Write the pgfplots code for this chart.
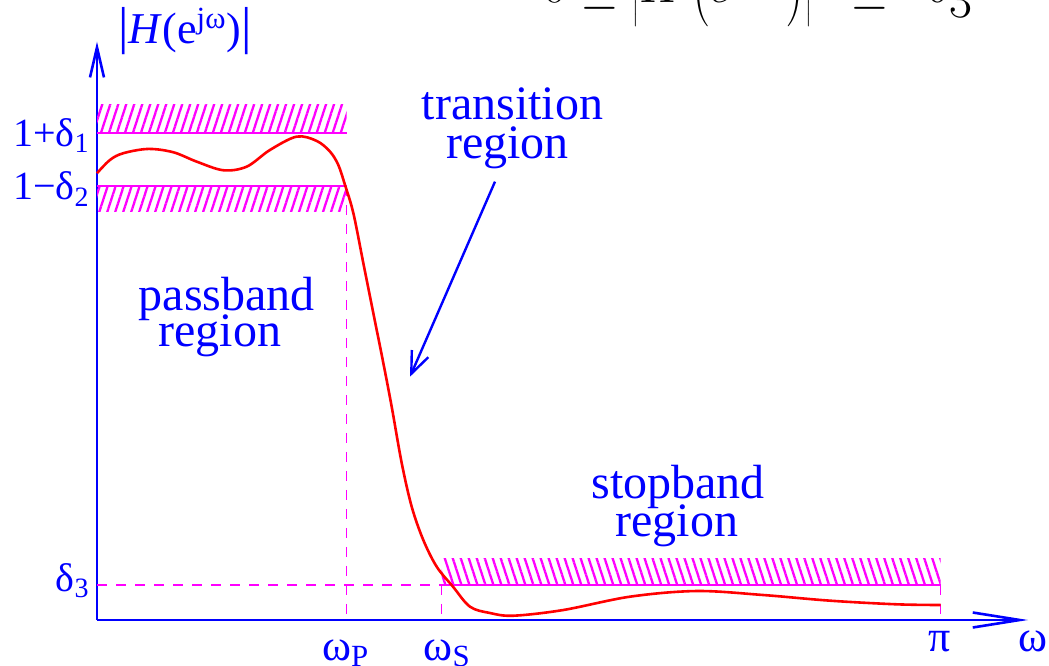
\documentclass[border=0pt]{standalone}
\usepackage{pgfplots}
\pgfplotsset{compat=1.18}
\usepackage{fontspec}
\setmainfont{Liberation Serif}
\usetikzlibrary{patterns.meta,arrows.meta}
\definecolor{myblue}{RGB}{0,0,255}
\definecolor{myred}{RGB}{255,0,0}
\definecolor{mymag}{RGB}{255,0,255}
\begin{document}
\begin{tikzpicture}
\useasboundingbox (0,0) rectangle (524.5pt,332.5pt);
\begin{axis}[
  at={(48.5pt,22.5pt)}, anchor=south west,
  scale only axis, width=465.5pt, height=289.15pt,
  xmin=0, xmax=3.4667, ymin=0, ymax=1.257,
  axis lines=left, xtick=\empty, ytick=\empty,
  clip=false,
  x axis line style={myblue, line width=1.3pt, -{Straight Barb[length=23.5pt,width=7.5pt]}},
  y axis line style={myblue, line width=1.3pt, -{Straight Barb[length=15pt,width=7pt]}},
]
% hatched tolerance bands
\addplot[draw=none, pattern={Lines[angle=72,distance=3.8pt,line width=1.15pt]}, pattern color=mymag]
  coordinates {(0,1.058) (0.9298,1.058) (0.9298,1.1196) (0,1.1196)} -- cycle;
\addplot[draw=none, pattern={Lines[angle=72,distance=3.8pt,line width=1.15pt]}, pattern color=mymag]
  coordinates {(0,0.8877) (0.9298,0.8877) (0.9298,0.9435) (0,0.9435)} -- cycle;
\addplot[draw=none, pattern={Lines[angle=108,distance=3.8pt,line width=1.15pt]}, pattern color=mymag]
  coordinates {(1.2835,0.0761) (3.1416,0.0761) (3.1416,0.1326) (1.2835,0.1326)} -- cycle;
\addplot[mymag, line width=1.2pt] coordinates {(0,1.058) (0.9298,1.058)};
\addplot[mymag, line width=1.2pt] coordinates {(0,0.9435) (0.9298,0.9435)};
\addplot[mymag, line width=1.2pt] coordinates {(1.2835,0.0761) (3.1416,0.0761)};
% dashed guides
\addplot[mymag, line width=0.65pt, dash pattern=on 5pt off 4.5pt] coordinates {(0.9298,0.9435) (0.9298,0)};
\addplot[mymag, line width=0.65pt, dash pattern=on 5pt off 4.5pt] coordinates {(0,0.0761) (1.2835,0.0761)};
\addplot[mymag, line width=0.65pt, dash pattern=on 5pt off 4.5pt] coordinates {(1.2835,0.0761) (1.2835,0)};
\addplot[mymag, line width=0.65pt, dash pattern=on 5pt off 4.5pt] coordinates {(3.1416,0.0761) (3.1416,0)};
% magnitude response
\addplot[myred, line width=1.3pt, smooth, tension=0.55] coordinates {
(0,0.9711) (0.0484,1.0000) (0.0979,1.0146) (0.1910,1.0239) (0.2841,1.0167)
(0.3712,0.9963) (0.4703,0.9776) (0.5574,0.9854) (0.6442,1.0217) (0.7436,1.0507)
(0.8181,1.0413) (0.8676,1.0181) (0.8985,0.9891) (0.9234,0.9457) (0.9544,0.8848)
(0.9916,0.7761) (1.0288,0.6674) (1.0661,0.5587) (1.0973,0.4637) (1.1346,0.3413)
(1.1718,0.2463) (1.2150,0.1739) (1.2649,0.1159) (1.3256,0.0724) (1.3889,0.0289)
(1.4634,0.0152) (1.5501,0.0093) (1.7363,0.0217) (1.9847,0.0507) (2.2330,0.0630)
(2.4810,0.0543) (2.7294,0.0420) (2.9777,0.0341) (3.1416,0.0326)};
\draw[myblue, line width=1.2pt, -{Straight Barb[length=11pt,width=9pt]}]
  (axis cs:1.4820,0.9528) -- (axis cs:1.1656,0.5289);
\end{axis}
% region labels
\begin{scope}[every node/.style={text=myblue, inner sep=0pt, font=\fontsize{24}{28}\selectfont}]
\node[anchor=base] at (256.25pt,272.5pt) {transition};
\node[anchor=base] at (253.75pt,253.35pt) {region};
\node[anchor=base] at (113.35pt,177.5pt) {passband};
\node[anchor=base] at (110pt,159.15pt) {region};
\node[anchor=base] at (339.15pt,83.35pt) {stopband};
\node[anchor=base] at (338.35pt,64.15pt) {region};
\end{scope}
\begin{scope}[every node/.style={text=myblue, inner sep=0pt, font=\fontsize{20}{24}\selectfont}]
\node[anchor=base east] at (45pt,259.15pt) {1+δ\textsubscript{1}};
\node[anchor=base east] at (45pt,232.5pt) {1−δ\textsubscript{2}};
\node[anchor=base east] at (45pt,36.65pt) {δ\textsubscript{3}};
\end{scope}
\begin{scope}[every node/.style={text=myblue, inner sep=0pt, font=\fontsize{22}{26}\selectfont}]
\node[anchor=base west] at (160.85pt,2.5pt) {ω\textsubscript{P}};
\node[anchor=base west] at (211.65pt,2.5pt) {ω\textsubscript{S}};
\node[anchor=base west] at (464.15pt,6.65pt) {π};
\node[anchor=base west] at (509pt,6.65pt) {ω};
\node[anchor=base west] at (59pt,310.85pt) {{\fontsize{26}{26}\selectfont|}\textit{H}(e\textsuperscript{jω}){\fontsize{26}{26}\selectfont|}};
\end{scope}
% cropped equation at the top edge
\node[anchor=base west, inner sep=0pt, font=\fontsize{38}{44}\selectfont] at (271.5pt,331.15pt)
  {$0\le\left|H\left(e^{j\omega}\right)\right|\mskip9mu\le\mskip9mu\delta_3$};
\end{tikzpicture}
\end{document}
